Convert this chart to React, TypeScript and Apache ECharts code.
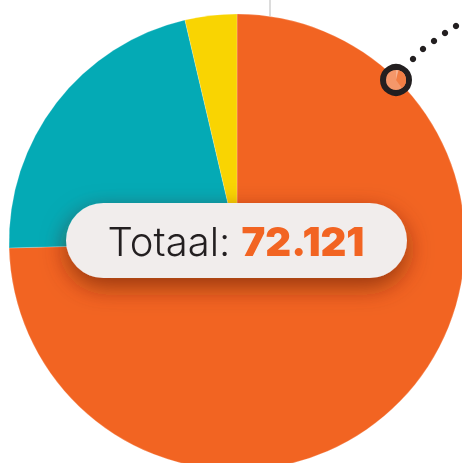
import React, { useEffect, useRef } from "react";
import * as echarts from "echarts";

const categories = ["Oranje", "Blauw", "Geel"];
const values = [53790, 15686, 2645];
const colors = ["#F26422", "#04AAB5", "#F9D402"];
const totalLabel = "Totaal: ";
const totalValue = "72.121";

export default function App() {
  const ref = useRef<HTMLDivElement>(null);
  useEffect(() => {
    if (!ref.current) return;
    const chart = echarts.init(ref.current, null, { renderer: "svg" });
    const dots = [
      [413, 59],
      [423, 49],
      [434, 41],
      [445, 33],
      [456, 26],
      [467, 19],
    ];
    chart.setOption({
      animation: false,
      series: [
        {
          type: "pie",
          center: [237, 242],
          radius: 228,
          startAngle: 90,
          clockwise: true,
          label: { show: false },
          labelLine: { show: false },
          silent: true,
          itemStyle: { borderColor: "rgba(255,255,255,0.35)", borderWidth: 0.6 },
          data: categories.map((c, i) => ({
            name: c,
            value: values[i],
            itemStyle: { color: colors[i] },
          })),
        },
      ],
      graphic: [
        {
          type: "line",
          shape: { x1: 270, y1: 0, x2: 270, y2: 16 },
          style: { stroke: "#d0d0d0", lineWidth: 1.5 },
          z: 0,
        },
        ...dots.map(([x, y]) => ({
          type: "circle",
          shape: { cx: x, cy: y, r: 3.2 },
          style: { fill: "#231F20" },
          z: 10,
        })),
        {
          type: "circle",
          shape: { cx: 396, cy: 80, r: 13 },
          style: { fill: "#F5976A", stroke: "#231F20", lineWidth: 6 },
          z: 11,
        },
        {
          type: "sector",
          shape: { cx: 396, cy: 80, r: 10, r0: 0, startAngle: -Math.PI / 2, endAngle: Math.PI * 0.3 },
          style: { fill: "#F27E45" },
          z: 11,
        },
        {
          type: "sector",
          shape: { cx: 396, cy: 80, r: 10, r0: 0, startAngle: -Math.PI / 2, endAngle: -Math.PI * 0.42 },
          style: { fill: "#F8B08E" },
          z: 11,
        },
        {
          type: "rect",
          shape: { x: 66, y: 203, width: 341, height: 75, r: 37.5 },
          style: {
            fill: "#F1EDEC",
            shadowBlur: 24,
            shadowOffsetY: 9,
            shadowColor: "rgba(90,30,0,0.6)",
          },
          z: 20,
        },
        {
          type: "text",
          x: 236,
          y: 241,
          z: 21,
          style: {
            text: `{a|${totalLabel}}{b|${totalValue}}`,
            align: "center",
            verticalAlign: "middle",
            rich: {
              a: {
                fontFamily: "Inter",
                fontWeight: 300,
                fontSize: 40,
                fill: "#231F20",
              },
              b: {
                fontFamily: "Inter",
                fontWeight: 900,
                fontSize: 40,
                fill: "#F26422",
              },
            },
          },
        },
      ],
    });
    return () => chart.dispose();
  }, []);
  return (
    <div
      ref={ref}
      style={{ position: "fixed", left: 0, top: 0, width: 462, height: 463 }}
    />
  );
}
